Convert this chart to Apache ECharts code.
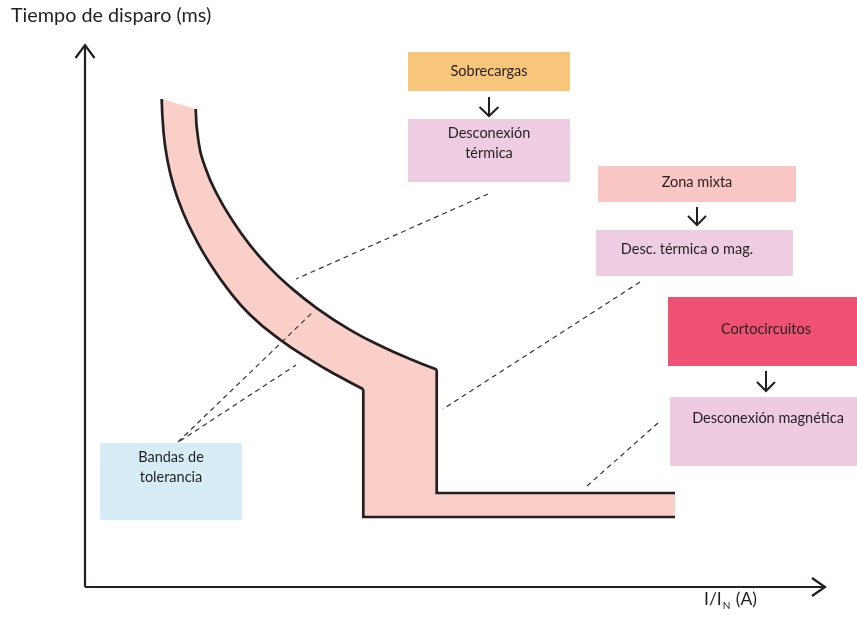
<!DOCTYPE html>
<html>
<head>
<meta charset="utf-8">
<script src="https://cdn.jsdelivr.net/npm/echarts@6/dist/echarts.min.js"></script>
<style>
html, body { margin: 0; padding: 0; background: #fff; }
#main { width: 857px; height: 625px; }
</style>
</head>
<body>
<div id="main"></div>
<script>
// diagram units follow the original figure (x right, y down)
var outerCurve = [[161.7,99],[163.3,129],[166.7,156],[173.3,185],[183.3,213],[195,237.6],[208,260.4],[228,289.4],[250,314.7],[280,339.6],[313,361.4],[337,375.3],[363.3,389.3]];
var innerCurve = [[195.7,109],[198.3,140],[205,166.7],[216.7,193.6],[233.3,221.8],[250,245.2],[268,265.9],[287,284.3],[317,308.3],[350,329.8],[383,347],[410,358.9],[436.7,369.5]];
var outerStep = [[363.3,389.3],[363.3,517],[675,517]];
var innerStep = [[436.7,369.5],[436.7,493],[675,493]];

var boxNames = ['Sobrecargas', 'Desconexión\ntérmica', 'Zona mixta', 'Desc. térmica o mag.', 'Cortocircuitos', 'Desconexión magnética', 'Bandas de\ntolerancia'];
var boxCorners = [[408,52,570,91],[408,119,570,182],[598,166,796,202],[596,230,793,276],[668,297,859,366],[670,397,859,466],[100,443,242,520]];
var labelAnchors = [[489,71],[489,143],[697,182],[687,249],[766,329],[768,418],[171,467]];
var boxColors = ['#f8c67b', '#eecde3', '#f8c6c4', '#eecde3', '#ef5174', '#eecbe0', '#d6edf5'];

// arrows: [tailX, tailY, tipX, tipY]
var arrows = [[85,587,85,45],[85,587,825,587],[489,97,489,116],[697,207,697,225],[766,371,766,391]];
var arrowHeads = [[13,9.5],[13,9],[9,9.5],[9,9],[9,9]];
var arrowWidths = [2.2, 2.2, 2, 2, 2];

var leaderLines = [
    [[488,194],[296,279]],
    [[178,442],[314,311]],
    [[180,441],[296,365]],
    [[640,282],[443,409]],
    [[658,423],[587,486]]
];

var ink = '#231f20';
var font = 'Lato, "Open Sans", sans-serif';

var chart = echarts.init(document.getElementById('main'));

var bandPolygon = outerCurve.concat(outerStep.slice(1), innerStep.slice().reverse().slice(0, 2), innerCurve.slice().reverse());

var option = {
    animation: false,
    grid: { left: 0, right: 0, top: 0, bottom: 0 },
    xAxis: { type: 'value', min: 0, max: 857, show: false },
    yAxis: { type: 'value', min: 0, max: 625, inverse: true, show: false },
    graphic: [
        {
            type: 'text', left: 11, top: 6,
            style: { text: 'Tiempo de disparo (ms)', fill: ink, fontSize: 19.8, fontFamily: font }
        },
        {
            type: 'text', left: 704, top: 590,
            style: {
                text: '{a|I/I}{s|N}{a| (A)}',
                rich: {
                    a: { fontSize: 17.5, fontFamily: font, fill: ink },
                    s: { fontSize: 10, fontFamily: font, fill: ink, padding: [14, 1, 0, 1] }
                }
            }
        }
    ],
    series: [
        {
            // tolerance band fill
            type: 'custom',
            data: [[0, 0]],
            z: 1,
            renderItem: function (params, api) {
                var pts = bandPolygon.map(function (p) { return api.coord(p); });
                return { type: 'polygon', shape: { points: pts }, style: { fill: '#facfc7', stroke: null } };
            }
        },
        { type: 'line', data: outerCurve, smooth: 0.5, showSymbol: false, z: 3, lineStyle: { color: ink, width: 2.7 } },
        { type: 'line', data: innerCurve, smooth: 0.5, showSymbol: false, z: 3, lineStyle: { color: ink, width: 2.7 } },
        { type: 'line', data: outerStep, showSymbol: false, z: 3, lineStyle: { color: ink, width: 2.7, join: 'miter' } },
        { type: 'line', data: innerStep, showSymbol: false, z: 3, lineStyle: { color: ink, width: 2.7, join: 'miter' } },
        {
            type: 'lines',
            coordinateSystem: 'cartesian2d',
            z: 4,
            data: leaderLines.map(function (l) { return { coords: l }; }),
            lineStyle: { color: '#333', width: 1.2, type: [5, 4], opacity: 1 }
        },
        {
            // text boxes
            type: 'custom',
            z: 2,
            data: boxCorners,
            encode: { x: [0, 2], y: [1, 3] },
            renderItem: function (params, api) {
                var i = params.dataIndex;
                var c = boxCorners[i];
                var p1 = api.coord([c[0], c[1]]);
                var p2 = api.coord([c[2], c[3]]);
                var a = api.coord(labelAnchors[i]);
                return {
                    type: 'group',
                    children: [
                        { type: 'rect', shape: { x: p1[0], y: p1[1], width: p2[0] - p1[0], height: p2[1] - p1[1] }, style: { fill: boxColors[i] } },
                        { type: 'text', x: a[0], y: a[1], style: { text: boxNames[i], fill: ink, fontSize: 14.5, fontFamily: font, align: 'center', verticalAlign: 'middle', lineHeight: 20 } }
                    ]
                };
            }
        },
        {
            // axes and flow arrows with open heads
            type: 'custom',
            z: 5,
            data: arrows,
            encode: { x: [0, 2], y: [1, 3] },
            renderItem: function (params, api) {
                var i = params.dataIndex;
                var tail = api.coord([api.value(0), api.value(1)]);
                var tip = api.coord([api.value(2), api.value(3)]);
                var dx = tip[0] - tail[0], dy = tip[1] - tail[1];
                var len = Math.sqrt(dx * dx + dy * dy);
                var ux = dx / len, uy = dy / len;
                var back = arrowHeads[i][0], half = arrowHeads[i][1];
                var w1 = [tip[0] - ux * back - uy * half, tip[1] - uy * back + ux * half];
                var w2 = [tip[0] - ux * back + uy * half, tip[1] - uy * back - ux * half];
                var st = { stroke: ink, lineWidth: arrowWidths[i], fill: null };
                return {
                    type: 'group',
                    children: [
                        { type: 'polyline', shape: { points: [tail, tip] }, style: st },
                        { type: 'polyline', shape: { points: [w1, tip, w2] }, style: st }
                    ]
                };
            }
        }
    ]
};

chart.setOption(option);
</script>
</body>
</html>
